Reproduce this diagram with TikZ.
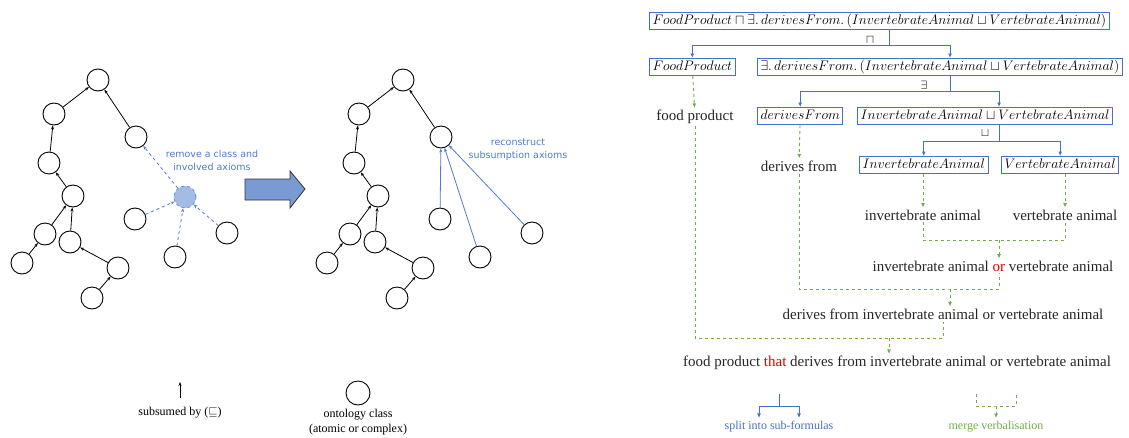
\RequirePackage{fix-cm}
\documentclass[tikz,border=0pt]{standalone}
\usepackage{fontspec}
\setmainfont{Liberation Serif}
\newfontfamily\handfont{DejaVu Sans}
\usetikzlibrary{arrows.meta}
\definecolor{splitblue}{HTML}{4472C4}
\definecolor{mergegreen}{HTML}{70AD47}
\definecolor{notered}{HTML}{E00000}
\definecolor{handblue}{HTML}{4F7BD0}
\definecolor{removedfill}{HTML}{A4BBE6}
\definecolor{bigarrow}{HTML}{7A9AD4}
\tikzset{
  cls/.style={circle,draw,line width=0.9pt,minimum size=22pt,inner sep=0pt},
  sub/.style={-{Stealth[length=4pt,width=3pt]},line width=0.8pt},
  removed/.style={cls,dashed,draw=handblue!80,fill=removedfill},
  gone/.style={sub,dashed,draw=handblue},
  rebuilt/.style={sub,draw=handblue},
  hand/.style={font=\handfont\fontsize{9.5}{13}\selectfont,text=handblue,align=center},
  formula/.style={draw=splitblue,line width=1pt,inner ysep=1pt,inner xsep=3pt,text height=11pt,text depth=4pt,font=\fontsize{13.8}{16}\selectfont},
  verb/.style={inner sep=2pt,text=black!85,font=\fontsize{15}{17}\selectfont},
  op/.style={inner sep=0pt,font=\fontsize{12}{14}\selectfont},
  split/.style={draw=splitblue,line width=1pt},
  splitarr/.style={split,-{Latex[length=4.5pt,width=4pt]}},
  merge/.style={draw=mergegreen,dashed,line width=0.9pt},
  mergearr/.style={merge,-{Latex[length=4.5pt,width=4pt]}},
  legend/.style={align=center,font=\fontsize{12}{15}\selectfont}
}
\begin{document}
\begin{tikzpicture}[x=1pt,y=-1pt]
\useasboundingbox (0,0) rectangle (1129,437);

\foreach \t/\dx in {a/0,b/305} {
  \foreach \n/\x/\y in {1/98/80,2/54/114,3/136/137,4/49/163,5/73/196,6/45/234,7/70/242,
      8/22/263,9/118/268,10/92/298,11/135/219,12/175/257,13/227/233}
    \node[cls] (\t\n) at (\x+\dx,\y) {};
  \foreach \c/\p in {2/1,3/1,4/2,5/4,6/5,7/5,8/6,9/7,10/9}
    \draw[sub] (\t\c) -- (\t\p);
}

\node[removed] (ax) at (185,197) {};
\foreach \c in {a11,a12,a13}
  \draw[gone] (\c) -- (ax);
\draw[gone] (ax) -- (a3);
\node[hand] (lremove) at (212,160) {remove a class and\\involved axioms};

\foreach \c in {b11,b12,b13}
  \draw[rebuilt] (\c) -- (b3);
\node[hand] (lrebuild) at (518,150) {reconstruct\\subsumption axioms};

\draw[fill=bigarrow,draw=black!80,line width=0.8pt] (245,179) -- (290,179) -- (290,171)
  -- (305,189) -- (290,208) -- (290,200) -- (245,200) -- cycle;

\node[legend] (lsub) at (180,413) {subsumed by ($\sqsubseteq$)};
\coordinate (lsubtop) at (180,382);
\draw[sub,shorten <=6pt] (lsub.north) -- (lsubtop);
\node[cls,minimum size=24pt] (lcls) at (358,393) {};
\node[legend] (lclstext) at (358,422) {ontology class\\(atomic or complex)};

\node[formula,anchor=west] (f0) at (649,21)
  {$FoodProduct \sqcap \exists.\,derivesFrom.\,(InvertebrateAnimal \sqcup VertebrateAnimal)$};
\node[formula,anchor=west] (f1) at (649,67) {$FoodProduct$};
\node[formula,anchor=west] (f2) at (757,67)
  {$\exists.\,derivesFrom.\,(InvertebrateAnimal \sqcup VertebrateAnimal)$};
\node[formula,anchor=west] (f3) at (757,116) {$derivesFrom$};
\node[formula,anchor=west] (f4) at (857,116) {$InvertebrateAnimal \sqcup VertebrateAnimal$};
\node[formula,anchor=west] (f5) at (859,165) {$InvertebrateAnimal$};
\node[formula,anchor=west] (f6) at (1001,165) {$VertebrateAnimal$};

\node[op] (op0) at (870,40) {$\sqcap$};
\node[op] (op1) at (924,85) {$\exists$};
\node[op] (op2) at (985,133) {$\sqcup$};

\coordinate (s0) at (889,45);
\coordinate (s1) at (950,91);
\coordinate (s2) at (999,141);
\draw[split] (f0.south -| s0) -- (s0);
\draw[splitarr] (s0) -| (f1.north);
\draw[splitarr] (s0) -| (f2.north -| s1);
\draw[split] (f2.south -| s1) -- (s1);
\draw[splitarr] (s1) -| (f3.north);
\draw[splitarr] (s1) -| (f4.north -| s2);
\draw[split] (f4.south -| s2) -- (s2);
\draw[splitarr] (s2) -| (f5.north);
\draw[splitarr] (s2) -| (f6.north);

\node[verb] (v1) at (695,117) {food product};
\node[verb] (v3) at (799,166) {derives from};
\node[verb] (v5) at (923,215) {invertebrate animal};
\node[verb] (v6) at (1065,215) {vertebrate animal};
\node[verb] (v4) at (993,266) {invertebrate animal \textcolor{notered}{or} vertebrate animal};
\node[verb] (v2) at (943,314) {derives from invertebrate animal or vertebrate animal};
\node[verb] (v0) at (897,363)
  {food product \textcolor{notered}{that} derives from invertebrate animal or vertebrate animal};

\draw[mergearr] (f1) -- (v1);
\draw[mergearr] (f3) -- (v3);
\draw[mergearr] (f5.south -| v5.north) -- (v5.north);
\draw[mergearr] (f6.south -| v6.north) -- (v6.north);
\coordinate (m1) at (999,240);
\coordinate (m2) at (950,289);
\coordinate (m3) at (889,338);
\draw[merge] (v5.south) |- (m1) -| (v6.south);
\draw[mergearr] (m1) -- (v4.north -| m1);
\draw[merge] (v3.south) |- (m2) -| (v4.south -| m1);
\draw[mergearr] (m2) -- (v2.north -| m2);
\draw[merge] (v1.south) |- (m3) -| (v2.south);
\draw[mergearr] (m3) -- (v0.north -| m3);

\node[legend,text=splitblue] (lsplit) at (779,427) {split into sub-formulas};
\coordinate (lstop) at (779,394);
\coordinate (ls) at (779,406);
\draw[split] (lstop) -- (ls);
\draw[splitarr] (ls) -| ([xshift=-20pt]lsplit.north);
\draw[splitarr] (ls) -| ([xshift=20pt]lsplit.north);
\node[legend,text=mergegreen] (lmerge) at (996,427) {merge verbalisation};
\coordinate (lml) at (976,394);
\coordinate (lmr) at (1016,394);
\coordinate (lm) at (996,406);
\draw[merge] (lml) |- (lm) -| (lmr);
\draw[mergearr] (lm) -- (lmerge.north);
\end{tikzpicture}
\end{document}
